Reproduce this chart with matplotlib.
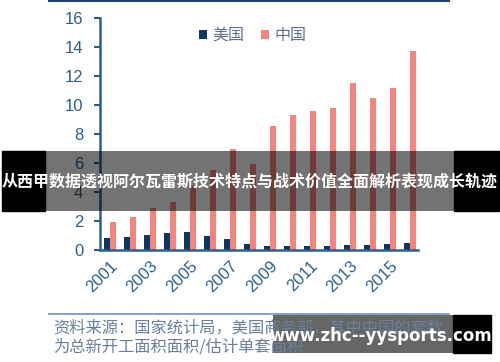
import numpy as np
import matplotlib.pyplot as plt
from matplotlib.patches import Rectangle
from matplotlib.lines import Line2D

plt.rcParams['font.family'] = ['Liberation Sans', 'Noto Sans CJK SC', 'DejaVu Sans']

# data
years = list(range(2001, 2017))
usa = [0.85, 0.92, 1.03, 1.15, 1.22, 0.99, 0.74, 0.41, 0.30, 0.25, 0.25, 0.30, 0.37, 0.37, 0.43, 0.48]
china = [1.95, 2.3, 2.9, 3.3, 4.4, 5.5, 7.0, 5.9, 8.55, 9.3, 9.6, 9.8, 11.5, 10.45, 11.2, 13.7]
yticks = [0, 2, 4, 6, 8, 10, 12, 14, 16]
xlabels = ['2001', '2003', '2005', '2007', '2009', '2011', '2013', '2015']

blue_txt = '#2e5f8c'
navy = '#0c355f'
salmon = '#f5847f'

W, H = 500, 362
fig = plt.figure(figsize=(W / 100, H / 100), dpi=100)

def fx(px):
    return px / W

def fy(py):
    return 1 - py / H

ax = fig.add_axes([fx(100), fy(250), fx(418) - fx(100), fy(18) - fy(250)])
x = np.arange(len(years))
bw = 0.28
ax.bar(x - bw / 2, usa, width=bw, color=navy, label='美国')
ax.bar(x + bw / 2, china, width=bw, color=salmon, label='中国')
ax.set_xlim(-0.5, 15.4)
ax.set_ylim(0, 16)
ax.set_yticks(yticks)
ax.set_yticklabels([str(v) for v in yticks], fontsize=12, color=blue_txt)
ax.set_xticks(x[::2])
ax.set_xticklabels(xlabels, rotation=45, ha='right', rotation_mode='anchor',
                   fontsize=12, color=blue_txt)
ax.tick_params(axis='y', direction='out', length=4, width=1.5, color=blue_txt, pad=8)
ax.tick_params(axis='x', length=0, pad=6)
for s in ['top', 'right']:
    ax.spines[s].set_visible(False)
for s in ['left', 'bottom']:
    ax.spines[s].set_color(blue_txt)
    ax.spines[s].set_linewidth(1.8)

leg = ax.legend(loc='upper center', bbox_to_anchor=(0.48, 1.02), ncol=2, frameon=False,
                fontsize=11.5, handlelength=0.5, handleheight=0.5, handletextpad=0.35,
                columnspacing=1.0)
for t in leg.get_texts():
    t.set_color('#5b7290')

# frame lines and source note
fig.add_artist(Line2D([fx(49), fx(449)], [fy(1), fy(1)], color='#1f3f66', lw=1.5))
fig.add_artist(Line2D([fx(49), fx(449)], [fy(314), fy(314)], color='#6f93b5', lw=1.2))
fig.text(fx(53), fy(328), '资料来源：国家统计局，美国商务部，其中中国的套数',
         fontsize=11.7, color='#6a7f99', va='center', family=['Noto Sans CJK SC'])
fig.text(fx(53), fy(347), '为总新开工面积面积/估计单套面积',
         fontsize=11.7, color='#6a7f99', va='center', family=['Noto Sans CJK SC'])

# title banner overlay
fig.add_artist(Rectangle((fx(2), fy(211)), fx(45) - fx(2), fy(151) - fy(211), color='black'))
fig.add_artist(Rectangle((fx(454), fy(211)), fx(499) - fx(454), fy(151) - fy(211), color='black'))
fig.add_artist(Rectangle((fx(45), fy(211)), fx(454) - fx(45), fy(151) - fy(211),
                         color='black', alpha=0.55, lw=0))
fig.text(0.5, fy(182), '从西甲数据透视阿尔瓦雷斯技术特点与战术价值全面解析表现成长轨迹',
         fontsize=11.5, color='white', weight='bold', ha='center', va='center',
         family=['Noto Sans CJK SC'])

# watermark overlay
fig.add_artist(Rectangle((fx(453), fy(353)), fx(491) - fx(453), fy(315) - fy(353), color='black'))
fig.add_artist(Rectangle((fx(273), fy(353)), fx(453) - fx(273), fy(315) - fy(353),
                         color='black', alpha=0.6, lw=0))
fig.text(fx(381), fy(336), 'www.zhc--yysports.com', fontsize=12, color='white',
         weight='bold', ha='center', va='center', family=['DejaVu Sans'])

fig.savefig('out.png', dpi=100)
